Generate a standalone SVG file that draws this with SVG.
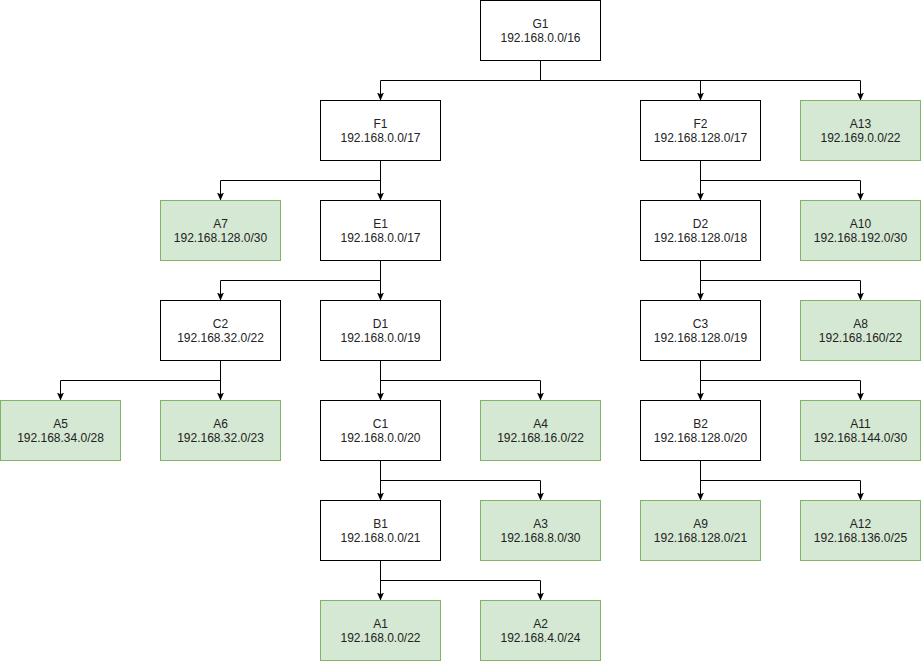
<svg xmlns="http://www.w3.org/2000/svg" width="921" height="661" viewBox="0 0 921 661">
<style>
.n rect{fill:#ffffff;stroke:#000000;stroke-width:1}
.g rect{fill:#d5e8d4;stroke:#82b366;stroke-width:1}
text{font-family:"Liberation Sans",Arial,Helvetica,sans-serif;font-size:12px;fill:#222222;text-anchor:middle}
#edges path{fill:none;stroke:#000000;stroke-width:1;marker-end:url(#arr)}
</style>
<defs>
<marker id="arr" viewBox="0 0 8 8" refX="7.5" refY="4" markerWidth="8" markerHeight="8" markerUnits="userSpaceOnUse" orient="auto">
<path d="M0,0.5 L8,4 L0,7.5 L1.8,4 z" fill="#000000"/>
</marker>
</defs>
<rect width="921" height="661" fill="#ffffff"/>
<g id="edges">
<path d="M540.5,60.5 V80.5 H380.5 V100"/>
<path d="M540.5,60.5 V80.5 H700.5 V100"/>
<path d="M540.5,60.5 V80.5 H860.5 V100"/>
<path d="M380.5,160.5 V180.5 H220.5 V200"/>
<path d="M380.5,160.5 V200"/>
<path d="M380.5,260.5 V280.5 H220.5 V300"/>
<path d="M380.5,260.5 V300"/>
<path d="M220.5,360.5 V380.5 H60.5 V400"/>
<path d="M220.5,360.5 V400"/>
<path d="M380.5,360.5 V400"/>
<path d="M380.5,360.5 V380.5 H540.5 V400"/>
<path d="M380.5,460.5 V500"/>
<path d="M380.5,460.5 V480.5 H540.5 V500"/>
<path d="M380.5,560.5 V600"/>
<path d="M380.5,560.5 V580.5 H540.5 V600"/>
<path d="M700.5,160.5 V200"/>
<path d="M700.5,160.5 V180.5 H860.5 V200"/>
<path d="M700.5,260.5 V300"/>
<path d="M700.5,260.5 V280.5 H860.5 V300"/>
<path d="M700.5,360.5 V400"/>
<path d="M700.5,360.5 V380.5 H860.5 V400"/>
<path d="M700.5,460.5 V500"/>
<path d="M700.5,460.5 V480.5 H860.5 V500"/>
</g>
<g id="G1" class="n"><rect x="480.5" y="0.5" width="120" height="60"/><text x="540.5" y="28">G1</text><text x="540.5" y="42">192.168.0.0/16</text></g>
<g id="F1" class="n"><rect x="320.5" y="100.5" width="120" height="60"/><text x="380.5" y="128">F1</text><text x="380.5" y="142">192.168.0.0/17</text></g>
<g id="F2" class="n"><rect x="640.5" y="100.5" width="120" height="60"/><text x="700.5" y="128">F2</text><text x="700.5" y="142">192.168.128.0/17</text></g>
<g id="A13" class="g"><rect x="800.5" y="100.5" width="120" height="60"/><text x="860.5" y="128">A13</text><text x="860.5" y="142">192.169.0.0/22</text></g>
<g id="A7" class="g"><rect x="160.5" y="200.5" width="120" height="60"/><text x="220.5" y="228">A7</text><text x="220.5" y="242">192.168.128.0/30</text></g>
<g id="E1" class="n"><rect x="320.5" y="200.5" width="120" height="60"/><text x="380.5" y="228">E1</text><text x="380.5" y="242">192.168.0.0/17</text></g>
<g id="D2" class="n"><rect x="640.5" y="200.5" width="120" height="60"/><text x="700.5" y="228">D2</text><text x="700.5" y="242">192.168.128.0/18</text></g>
<g id="A10" class="g"><rect x="800.5" y="200.5" width="120" height="60"/><text x="860.5" y="228">A10</text><text x="860.5" y="242">192.168.192.0/30</text></g>
<g id="C2" class="n"><rect x="160.5" y="300.5" width="120" height="60"/><text x="220.5" y="328">C2</text><text x="220.5" y="342">192.168.32.0/22</text></g>
<g id="D1" class="n"><rect x="320.5" y="300.5" width="120" height="60"/><text x="380.5" y="328">D1</text><text x="380.5" y="342">192.168.0.0/19</text></g>
<g id="C3" class="n"><rect x="640.5" y="300.5" width="120" height="60"/><text x="700.5" y="328">C3</text><text x="700.5" y="342">192.168.128.0/19</text></g>
<g id="A8" class="g"><rect x="800.5" y="300.5" width="120" height="60"/><text x="860.5" y="328">A8</text><text x="860.5" y="342">192.168.160/22</text></g>
<g id="A5" class="g"><rect x="0.5" y="400.5" width="120" height="60"/><text x="60.5" y="428">A5</text><text x="60.5" y="442">192.168.34.0/28</text></g>
<g id="A6" class="g"><rect x="160.5" y="400.5" width="120" height="60"/><text x="220.5" y="428">A6</text><text x="220.5" y="442">192.168.32.0/23</text></g>
<g id="C1" class="n"><rect x="320.5" y="400.5" width="120" height="60"/><text x="380.5" y="428">C1</text><text x="380.5" y="442">192.168.0.0/20</text></g>
<g id="A4" class="g"><rect x="480.5" y="400.5" width="120" height="60"/><text x="540.5" y="428">A4</text><text x="540.5" y="442">192.168.16.0/22</text></g>
<g id="B2" class="n"><rect x="640.5" y="400.5" width="120" height="60"/><text x="700.5" y="428">B2</text><text x="700.5" y="442">192.168.128.0/20</text></g>
<g id="A11" class="g"><rect x="800.5" y="400.5" width="120" height="60"/><text x="860.5" y="428">A11</text><text x="860.5" y="442">192.168.144.0/30</text></g>
<g id="B1" class="n"><rect x="320.5" y="500.5" width="120" height="60"/><text x="380.5" y="528">B1</text><text x="380.5" y="542">192.168.0.0/21</text></g>
<g id="A3" class="g"><rect x="480.5" y="500.5" width="120" height="60"/><text x="540.5" y="528">A3</text><text x="540.5" y="542">192.168.8.0/30</text></g>
<g id="A9" class="g"><rect x="640.5" y="500.5" width="120" height="60"/><text x="700.5" y="528">A9</text><text x="700.5" y="542">192.168.128.0/21</text></g>
<g id="A12" class="g"><rect x="800.5" y="500.5" width="120" height="60"/><text x="860.5" y="528">A12</text><text x="860.5" y="542">192.168.136.0/25</text></g>
<g id="A1" class="g"><rect x="320.5" y="600.5" width="120" height="60"/><text x="380.5" y="628">A1</text><text x="380.5" y="642">192.168.0.0/22</text></g>
<g id="A2" class="g"><rect x="480.5" y="600.5" width="120" height="60"/><text x="540.5" y="628">A2</text><text x="540.5" y="642">192.168.4.0/24</text></g>
</svg>
